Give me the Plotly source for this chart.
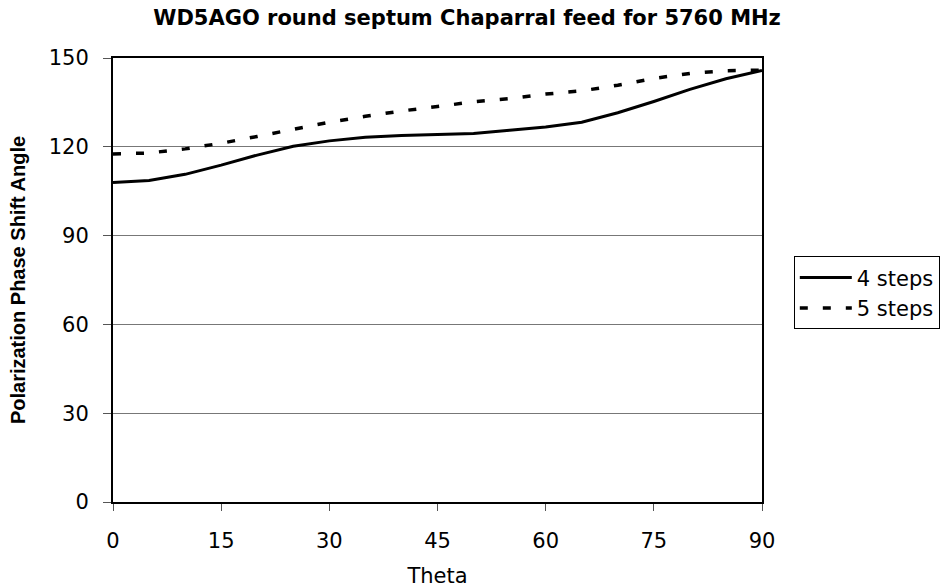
import plotly.graph_objects as go

theta = [0, 5, 10, 15, 20, 25, 30, 35, 40, 45, 50, 55, 60, 65, 70, 75, 80, 85, 90]
steps4 = [107.9, 108.6, 110.7, 113.8, 117.2, 120.2, 122.0, 123.2, 123.8, 124.1,
          124.5, 125.6, 126.7, 128.3, 131.5, 135.3, 139.4, 143.0, 145.8]
steps5 = [117.6, 117.9, 119.3, 121.2, 123.5, 126.0, 128.3, 130.3, 132.1, 133.6,
          135.2, 136.3, 137.8, 138.9, 140.8, 143.1, 144.8, 145.7, 145.9]
x_ticks = [0, 15, 30, 45, 60, 75, 90]
y_ticks = [0, 30, 60, 90, 120, 150]

WIDE = "DejaVu Sans, Verdana, sans-serif"
NARROW = "Liberation Sans, Arial, sans-serif"

fig = go.Figure()
fig.add_trace(go.Scatter(x=theta, y=steps4, mode="lines", name="4 steps",
                         line=dict(color="black", width=3)))
fig.add_trace(go.Scatter(x=theta, y=steps5, mode="lines", name="5 steps",
                         line=dict(color="black", width=3.5, dash="8px,15px")))

fig.update_layout(
    width=946, height=588,
    margin=dict(l=113, r=184, t=58, b=86, autoexpand=False),
    paper_bgcolor="white", plot_bgcolor="white",
    font=dict(family=WIDE, color="black", size=21),
    title=dict(text="<b>WD5AGO round septum Chaparral feed for 5760 MHz</b>",
               x=0.4937, xanchor="center", y=1 - 18 / 588, yanchor="middle",
               xref="container", yref="container",
               font=dict(family=WIDE, size=21, color="black")),
    legend=dict(x=1.049, xanchor="left", y=0.553, yanchor="top",
                bordercolor="black", borderwidth=1, bgcolor="white",
                font=dict(family=WIDE, size=21), itemwidth=52,
                tracegroupgap=0),
    showlegend=True,
)

fig.update_xaxes(
    range=[0, 90], tickvals=x_ticks, ticktext=[str(v) for v in x_ticks],
    showgrid=False, zeroline=False, automargin=False,
    showline=True, linecolor="black", linewidth=2, mirror=True,
    ticks="outside", ticklen=7, tickwidth=1, tickcolor="#555",
    tickfont=dict(family=WIDE, size=21), ticklabelstandoff=12,
    title=dict(text="Theta", font=dict(family=WIDE, size=21), standoff=20),
)
fig.update_yaxes(
    range=[0, 150], tickvals=y_ticks, ticktext=[str(v) for v in y_ticks],
    showgrid=True, gridcolor="#777", gridwidth=1, zeroline=False, automargin=False,
    showline=True, linecolor="black", linewidth=2, mirror=True,
    ticks="outside", ticklen=8, tickwidth=1, tickcolor="#555",
    tickfont=dict(family=WIDE, size=21), ticklabelstandoff=10,
    title=dict(text="<b>Polarization Phase Shift Angle</b>",
               font=dict(family=NARROW, size=20), standoff=18),
)

fig.write_html("out.html")
